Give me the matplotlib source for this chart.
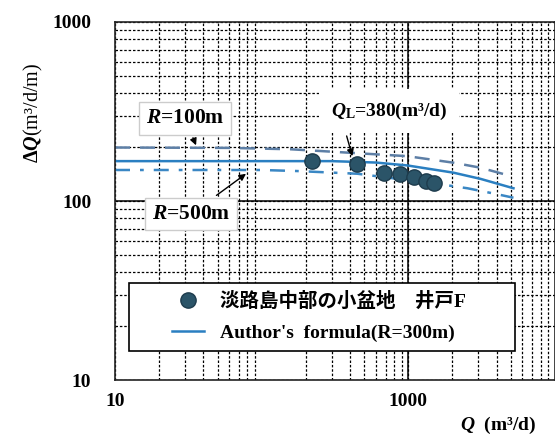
import matplotlib
matplotlib.use("Agg")
import matplotlib.pyplot as plt
from matplotlib.patches import Rectangle
from matplotlib.ticker import FixedLocator, LogLocator, NullFormatter

plt.rcParams['font.family'] = ['Liberation Serif', 'Noto Sans CJK JP']
plt.rcParams['font.weight'] = 'bold'
plt.rcParams['mathtext.fontset'] = 'custom'
plt.rcParams['mathtext.it'] = 'Liberation Serif:italic:bold'
plt.rcParams['mathtext.rm'] = 'Liberation Serif:bold'
plt.rcParams['mathtext.bf'] = 'Liberation Serif:bold'

# observed data, well F
obs_q = [220, 447, 678, 881, 1099, 1327, 1507]
obs_dq = [167, 160, 143, 141, 136.7, 129, 125.6]

# author's formula R=300m
r300_q = [10, 300, 600, 984, 2028, 3100, 5210]
r300_dq = [167, 167, 164, 158, 144, 133, 117.8]

# R=100m
r100_q = [10, 60, 157, 984, 2028, 3100, 4970]
r100_dq = [199, 198, 194.6, 178, 163.7, 153.5, 138]

# R=500m
r500_q = [10, 100, 175, 449, 1652, 2530, 4055, 5210]
r500_dq = [149, 149, 147, 142, 124, 117.8, 109, 104.3]

fig = plt.figure(figsize=(5.55, 4.36), dpi=100)
ax = fig.add_axes([115/555, 56/436, 440/555, 358/436])
ax.set_xscale('log')
ax.set_yscale('log')
ax.set_xlim(10, 10000)
ax.set_ylim(10, 1000)

# grid
ax.xaxis.set_major_locator(FixedLocator([10, 100, 1000, 10000]))
ax.xaxis.set_minor_locator(LogLocator(base=10, subs=range(2, 10)))
ax.yaxis.set_minor_locator(LogLocator(base=10, subs=range(2, 10)))
ax.grid(True, which='both', color='black', linestyle=(0, (2, 1.5)), linewidth=0.9)
ax.axhline(100, color='black', linewidth=1.1)
ax.axvline(1000, color='black', linewidth=1.1)
ax.tick_params(which='both', length=0)
ax.xaxis.set_minor_formatter(NullFormatter())
ax.yaxis.set_minor_formatter(NullFormatter())
ax.set_xticks([10, 1000])
ax.set_xticklabels(['10', '1000'])
ax.set_yticks([10, 100, 1000])
ax.set_yticklabels(['10', '100', '1000'])
ax.tick_params(axis='both', labelsize=14, pad=9)
ax.tick_params(axis='y', pad=17)
for s in ax.spines.values():
    s.set_color('#222222')
    s.set_linewidth(1.2)

ax.plot(r100_q, r100_dq, color='#5d7fa6', linewidth=1.8, linestyle=(0, (6, 4)))
ax.plot(r500_q, r500_dq, color='#3a87c4', linewidth=1.8, linestyle=(0, (6, 4, 1.5, 4)))
line, = ax.plot(r300_q, r300_dq, color='#2a7fc1', linewidth=1.8,
                label="Author's  formula(R=300m)")
pts, = ax.plot(obs_q, obs_dq, linestyle='none', marker='o', markersize=11,
               markerfacecolor='#2b5468', markeredgecolor='#1d3b4c',
               label='淡路島中部の小盆地　井戸F')

box = dict(boxstyle='square,pad=0.3', facecolor='white', edgecolor='#cccccc', linewidth=1)
arr = dict(arrowstyle='-|>', color='black', linewidth=1, mutation_scale=10)
ax.annotate(r'$\mathit{R}$=100m', xy=(36.3, 198), xytext=(30, 290),
            ha='center', va='center', fontsize=15.5, bbox=box, arrowprops=arr)
ax.annotate(r'$\mathit{R}$=500m', xy=(81, 145), xytext=(33, 84.6),
            ha='center', va='center', fontsize=15.5, bbox=box, arrowprops=arr)
ax.annotate(r'$\mathit{Q}_{\mathrm{L}}$=380(m³/d)', xy=(420, 172), xytext=(741, 318),
            ha='center', va='center', fontsize=14,
            bbox=dict(boxstyle='square,pad=0.6', facecolor='white', edgecolor='none'),
            arrowprops=dict(arrowstyle='-|>', color='black', linewidth=1, mutation_scale=10,
                            relpos=(0.1, 0.0)))

# legend frame drawn separately so the entries can sit inside it freely
frame = Rectangle((0.032, 0.081), 0.876, 0.19, transform=ax.transAxes,
                  facecolor='white', edgecolor='black', linewidth=1.2, zorder=4.9)
ax.add_patch(frame)
leg = ax.legend(handles=[pts, line], loc='center left', bbox_to_anchor=(0.13, 0.177),
                frameon=False, borderpad=0, borderaxespad=0,
                fontsize=14, labelspacing=0.7, handlelength=1.65, handletextpad=0.8)

ax.set_ylabel(r'$\mathit{ΔQ}$(m³/d/m)', fontsize=14.5)
ax.yaxis.set_label_coords(-0.16, 0.747)
fig.text(498/555, 1 - 425/436, r'$\mathit{Q}$  (m³/d)', ha='center', va='center', fontsize=14)

fig.savefig('out.png', dpi=100)
